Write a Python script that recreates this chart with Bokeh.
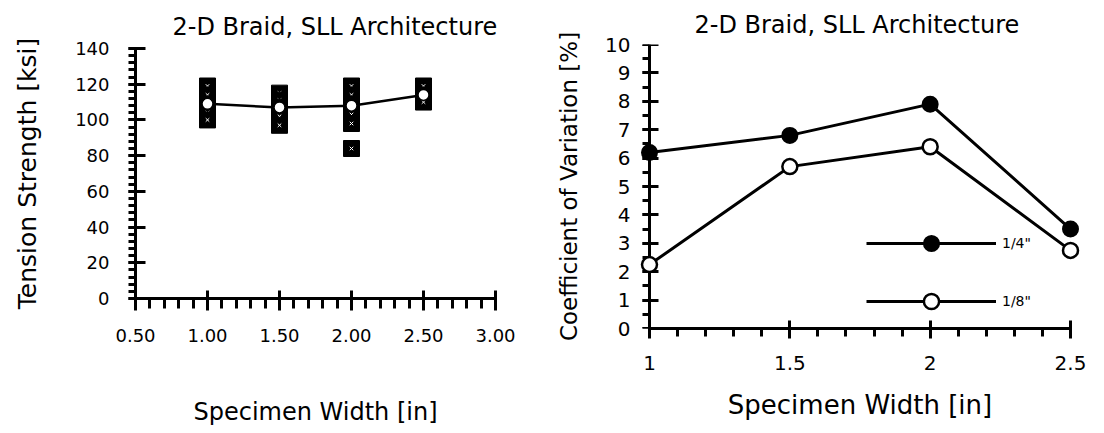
from bokeh.plotting import figure
from bokeh.models import (FixedTicker, PrintfTickFormatter, Range1d, Legend,
                          LegendItem, Title, LinearAxis)
from bokeh.embed import file_html
from bokeh.resources import INLINE

# ---------------- data: left chart (tension strength) ----------------
widths = [1.00, 1.50, 2.00, 2.50]
mean_strength = [109, 107, 108, 114]
spec_100 = [119, 114, 109, 104, 100]
spec_150 = [115, 111, 107, 102, 97]
spec_200 = [119, 114, 109, 103, 98, 84]
spec_250 = [119, 114, 110]
left_x_ticks = [0.5, 1.0, 1.5, 2.0, 2.5, 3.0]
left_y_ticks = [0, 20, 40, 60, 80, 100, 120, 140]

# ---------------- data: right chart (coefficient of variation) ----------------
cv_width = [1, 1.5, 2, 2.5]
cv_quarter = [6.2, 6.8, 7.9, 3.5]
cv_eighth = [2.25, 5.7, 6.4, 2.75]
right_x_ticks = [1, 1.5, 2, 2.5]
right_x_labels = ["1", "1.5", "2", "2.5"]
right_y_ticks = [0, 1, 2, 3, 4, 5, 6, 7, 8, 9, 10]
series_labels = ['1/4"', '1/8"']

TITLE = "2-D Braid, SLL Architecture"
FONT = "DejaVu Sans"


def style_axis(ax, tick_in, tick_out, minor_out, standoff, label_standoff,
               label_size, tick_size="18px"):
    ax.axis_line_width = 3
    ax.axis_line_color = "black"
    ax.major_tick_line_width = 3
    ax.minor_tick_line_width = 3
    ax.major_tick_line_color = "black"
    ax.minor_tick_line_color = "black"
    ax.major_tick_in = tick_in
    ax.major_tick_out = tick_out
    ax.minor_tick_in = 0
    ax.minor_tick_out = minor_out
    ax.major_label_standoff = standoff
    ax.major_label_text_font = FONT
    ax.major_label_text_font_size = tick_size
    ax.major_label_text_color = "black"
    ax.axis_label_standoff = label_standoff
    ax.axis_label_text_font = FONT
    ax.axis_label_text_font_size = label_size
    ax.axis_label_text_font_style = "normal"
    ax.axis_label_text_color = "black"


def base_fig(width, x_range, y_range, mb, **kw):
    p = figure(width=width, height=433, x_range=x_range, y_range=y_range,
               output_backend="svg", toolbar_location=None,
               min_border_left=mb[0], min_border_right=mb[1],
               min_border_top=mb[2], min_border_bottom=mb[3], **kw)
    p.outline_line_color = None
    p.grid.visible = False
    p.background_fill_color = "white"
    p.border_fill_color = "white"
    return p


def make_title(offset, standoff):
    return Title(text=TITLE, align="left", offset=offset, standoff=standoff,
                 text_font=FONT, text_font_size="24px", text_font_style="normal",
                 text_color="black")


# ---------------- left figure ----------------
# frame: x 135..495 px, y 48..298 px
p1 = base_fig(528, Range1d(0.5, 3.0), Range1d(0, 140), (135, 33, 48, 135))
p1.title = make_title(37, 16)
p1.xaxis.ticker = FixedTicker(ticks=left_x_ticks,
                              minor_ticks=[0.5 + 0.1 * i for i in range(26)])
p1.xaxis.formatter = PrintfTickFormatter(format="%.2f")
p1.yaxis.ticker = FixedTicker(ticks=left_y_ticks, minor_ticks=list(range(0, 141, 4)))
p1.xaxis.axis_label = "Specimen Width [in]"
p1.yaxis.axis_label = "Tension Strength [ksi]"
style_axis(p1.xaxis[0], 8, 12, 10, 18, 53, "24px")
style_axis(p1.yaxis[0], 10, 7, 7, 19, 30, "25px")

for xv, ys in zip(widths, [spec_100, spec_150, spec_200, spec_250]):
    for yv in ys:
        p1.scatter([xv], [yv], marker="square", size=16,
                   fill_color="black", line_color="black")
        p1.scatter([xv], [yv], marker="x", size=5, line_color="white",
                   line_width=1)

p1.line(widths, mean_strength, line_width=2.5, line_color="black")
p1.scatter(widths, mean_strength, marker="circle", size=11,
           fill_color="white", line_color="black", line_width=1.5)

# ---------------- right figure ----------------
# frame: x 638..1081 px (value 1 at 649, 2.5 at 1070), y 44..328 px
pad_px = 11
span_px = 421
pad_x = pad_px * (cv_width[-1] - cv_width[0]) / span_px
p2 = base_fig(576, Range1d(cv_width[0] - pad_x, cv_width[-1] + pad_x),
              Range1d(0, 10), (110, 23, 44, 105), y_axis_location=None)
p2.title = make_title(56, 12)
p2.xaxis.ticker = FixedTicker(ticks=right_x_ticks,
                              minor_ticks=[1 + 0.1 * i for i in range(16)])
p2.xaxis.major_label_overrides = dict(zip(right_x_ticks, right_x_labels))
p2.xaxis.bounds = (cv_width[0], cv_width[-1])
p2.xaxis.axis_label = "Specimen Width [in]"
style_axis(p2.xaxis[0], 8, 10, 8, 17, 17, "26px", "20px")

# labels-only y axis at the frame edge
ya_lbl = LinearAxis(ticker=FixedTicker(ticks=right_y_ticks),
                    axis_label="Coefficient of Variation [%]")
style_axis(ya_lbl, 0, 0, 0, 8, 20, "23px", "20px")
ya_lbl.axis_line_color = None
ya_lbl.major_tick_line_color = None
ya_lbl.minor_tick_line_color = None
p2.add_layout(ya_lbl, "left")

# ruled y axis drawn at x = 1
ya_fix = LinearAxis(ticker=FixedTicker(ticks=right_y_ticks,
                                       minor_ticks=[0.5 * i for i in range(21)]),
                    fixed_location=cv_width[0], bounds=(0, 10))
style_axis(ya_fix, 9, 7, 7, 0, 0, "1px", "1px")
ya_fix.major_label_text_alpha = 0
p2.add_layout(ya_fix, "left")

lq = p2.line(cv_width, cv_quarter, line_width=3, line_color="black")
le = p2.line(cv_width, cv_eighth, line_width=3, line_color="black")
sq = p2.scatter(cv_width, cv_quarter, marker="circle", size=15,
                fill_color="black", line_color="black", line_width=2,
                level="overlay")
se = p2.scatter(cv_width, cv_eighth, marker="circle", size=15,
                fill_color="white", line_color="black", line_width=2.5,
                level="overlay")

legend = Legend(items=[LegendItem(label=series_labels[0], renderers=[lq, sq]),
                       LegendItem(label=series_labels[1], renderers=[le, se])],
                location=(228, 8), padding=0, margin=0, spacing=20,
                glyph_width=130, glyph_height=38, label_standoff=6,
                label_text_font=FONT, label_text_font_size="14px",
                label_text_color="black",
                background_fill_alpha=0, border_line_alpha=0)
p2.add_layout(legend)

p1.styles = {"position": "absolute", "left": "0px", "top": "0px"}
p2.styles = {"position": "absolute", "left": "528px", "top": "0px"}

open("out.html", "w").write(file_html([p1, p2], INLINE))
